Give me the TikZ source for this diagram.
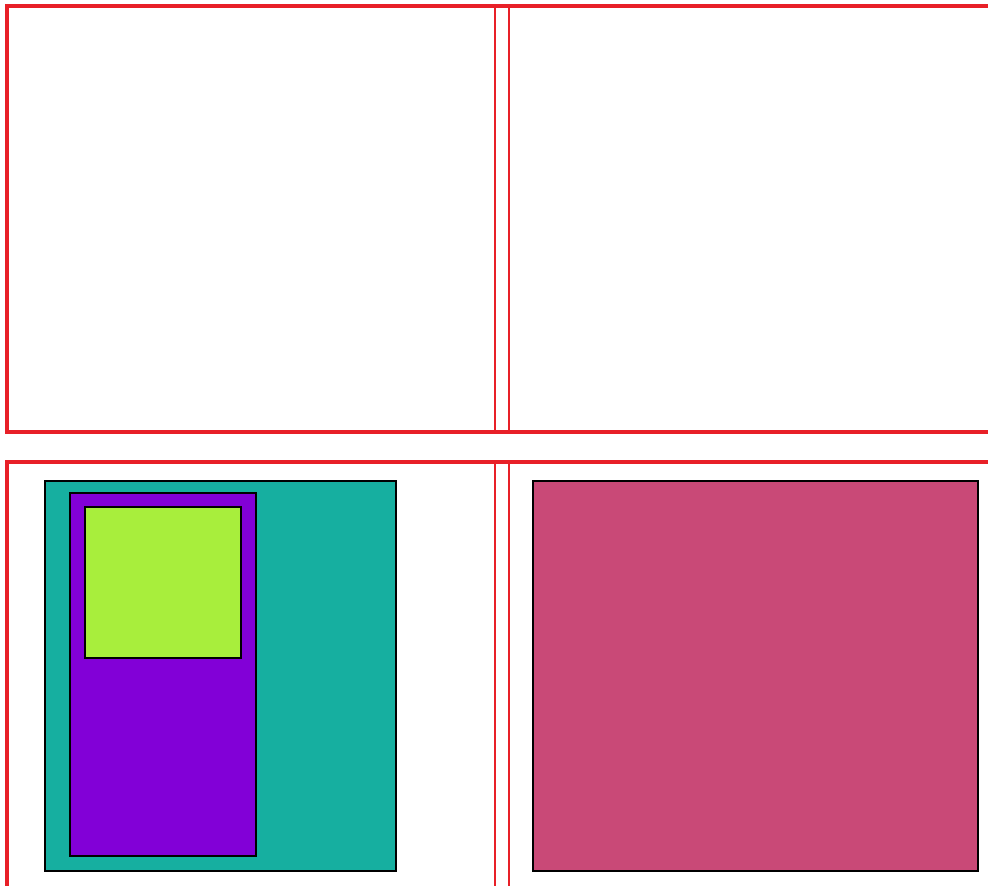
\documentclass[tikz,border=0pt]{standalone}
\definecolor{redline}{RGB}{232,32,40}
\definecolor{teal1}{RGB}{22,175,160}
\definecolor{purp}{RGB}{130,0,215}
\definecolor{lime}{RGB}{168,238,60}
\definecolor{rose}{RGB}{201,73,119}
\tikzset{
  frame/.style={draw=redline, line width=4.5pt, line join=miter},
  divider/.style={draw=redline, line width=2pt},
  box/.style={draw=black, line width=2.2pt, inner sep=0pt, outer sep=0pt, anchor=north west},
}
\begin{document}
\begin{tikzpicture}[x=1pt,y=-1pt]
\useasboundingbox (0,0) rectangle (988,886);
% top section
\draw[frame] (988,6) -- (7,6) -- (7,432) -- (988,432);
\draw[divider] (495,8) -- (495,430);
\draw[divider] (509,8) -- (509,430);
% bottom section
\draw[frame] (988,462) -- (7,462) -- (7,886);
\draw[divider] (495,464) -- (495,886);
\draw[divider] (509,464) -- (509,886);
% boxes
\node[box, fill=teal1, minimum width=351pt, minimum height=390pt] (teal) at (45,481) {};
\node[box, fill=purp, minimum width=186pt, minimum height=363pt] (purple) at (70,493) {};
\node[box, fill=lime, minimum width=156pt, minimum height=151pt] (green) at (85,507) {};
\node[box, fill=rose, minimum width=445pt, minimum height=390pt] (pink) at (533,481) {};
\end{tikzpicture}
\end{document}
